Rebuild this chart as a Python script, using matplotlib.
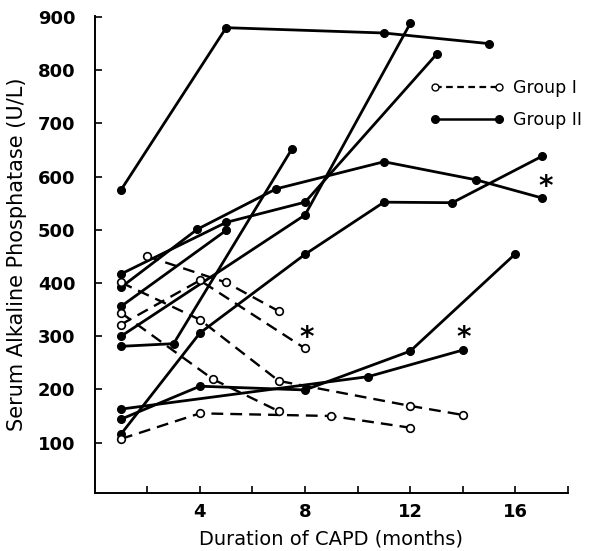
import matplotlib
matplotlib.use("Agg")
import matplotlib.pyplot as plt
from matplotlib.lines import Line2D

plt.rcParams['font.family'] = ['DejaVu Sans']

# Group I (open circles, dashed)
g1_a_x = [1, 4, 9, 12]
g1_a_y = [107, 155, 150, 128]
g1_b_x = [1, 4.5, 7]
g1_b_y = [344, 219, 159]
g1_c_x = [2, 5, 7]
g1_c_y = [450, 401, 347]
g1_d_x = [1, 4, 8]
g1_d_y = [322, 405, 277]
g1_e_x = [1, 4, 7, 12, 14]
g1_e_y = [401, 331, 216, 169, 152]

# Group II (filled circles, solid)
g2_a_x = [1, 5, 11, 15]
g2_a_y = [575, 880, 870, 850]
g2_b_x = [1, 3.9, 6.9, 11, 14.5, 17]
g2_b_y = [392, 501, 577, 628, 594, 560]
g2_c_x = [1, 5, 8, 13]
g2_c_y = [417, 514, 552, 830]
g2_d_x = [1, 8, 12]
g2_d_y = [300, 528, 888]
g2_e_x = [1, 3, 7.5]
g2_e_y = [281, 286, 652]
g2_f_x = [1, 4, 8, 11, 13.6, 17]
g2_f_y = [116, 306, 454, 552, 551, 638]
g2_g_x = [1, 4, 8, 12, 16]
g2_g_y = [144, 206, 199, 272, 455]
g2_h_x = [1, 10.4, 14]
g2_h_y = [163, 224, 274]
g2_i_x = [1, 5]
g2_i_y = [356, 499]

# asterisk (significance) positions
star_x = [8.05, 14.05, 17.15]
star_y = [297, 296, 580]

group1 = [(g1_a_x, g1_a_y), (g1_b_x, g1_b_y), (g1_c_x, g1_c_y),
          (g1_d_x, g1_d_y), (g1_e_x, g1_e_y)]
group2 = [(g2_a_x, g2_a_y), (g2_b_x, g2_b_y), (g2_c_x, g2_c_y),
          (g2_d_x, g2_d_y), (g2_e_x, g2_e_y), (g2_f_x, g2_f_y),
          (g2_g_x, g2_g_y), (g2_h_x, g2_h_y), (g2_i_x, g2_i_y)]

xticks = [2, 4, 6, 8, 10, 12, 14, 16, 18]
xticklabels = ['', '4', '', '8', '', '12', '', '16', '']
yticks = [100, 200, 300, 400, 500, 600, 700, 800, 900]

fig = plt.figure(figsize=(6.01, 5.51), dpi=100)
ax = fig.add_axes([0.1576, 0.105, 0.7875, 0.866])

for xs, ys in group2:
    ax.plot(xs, ys, color='black', lw=2.0, marker='o', markersize=5.5,
            markerfacecolor='black', markeredgecolor='black', zorder=3)
for xs, ys in group1:
    ax.plot(xs, ys, color='black', lw=1.7, ls=(0, (5, 3)), marker='o',
            markersize=5.5, markerfacecolor='white', markeredgecolor='black',
            markeredgewidth=1.2, zorder=4)

for sx, sy in zip(star_x, star_y):
    ax.text(sx, sy, '*', fontsize=20, fontweight='bold', ha='center',
            va='center')

ax.set_xlim(0, 18)
ax.set_ylim(5, 902)
ax.set_xticks(xticks)
ax.set_xticklabels(xticklabels)
ax.set_yticks(yticks)
ax.tick_params(direction='in', length=5, width=1.2, labelsize=13)
for lab in ax.get_xticklabels() + ax.get_yticklabels():
    lab.set_fontweight('bold')
ax.tick_params(axis='y', pad=14)
ax.tick_params(axis='x', pad=7)
for s in ['top', 'right']:
    ax.spines[s].set_visible(False)
for s in ['left', 'bottom']:
    ax.spines[s].set_linewidth(1.4)

ax.set_xlabel('Duration of CAPD (months)', fontsize=14, labelpad=6)
ax.set_ylabel('Serum Alkaline Phosphatase (U/L)', fontsize=15, labelpad=8)

handles = [
    Line2D([], [], color='black', lw=1.6, ls=(0, (3, 2)), marker='o',
           markersize=5, markerfacecolor='white', markeredgecolor='black'),
    Line2D([], [], color='black', lw=1.8, marker='o', markersize=5.5,
           markerfacecolor='black'),
]
ax.legend(handles, ['Group I', 'Group II'], numpoints=2, frameon=False,
          loc='upper left', bbox_to_anchor=(0.675, 0.90), fontsize=12.5,
          handlelength=4.3, handletextpad=0.5, labelspacing=0.8)

fig.savefig('out.png', dpi=100)
